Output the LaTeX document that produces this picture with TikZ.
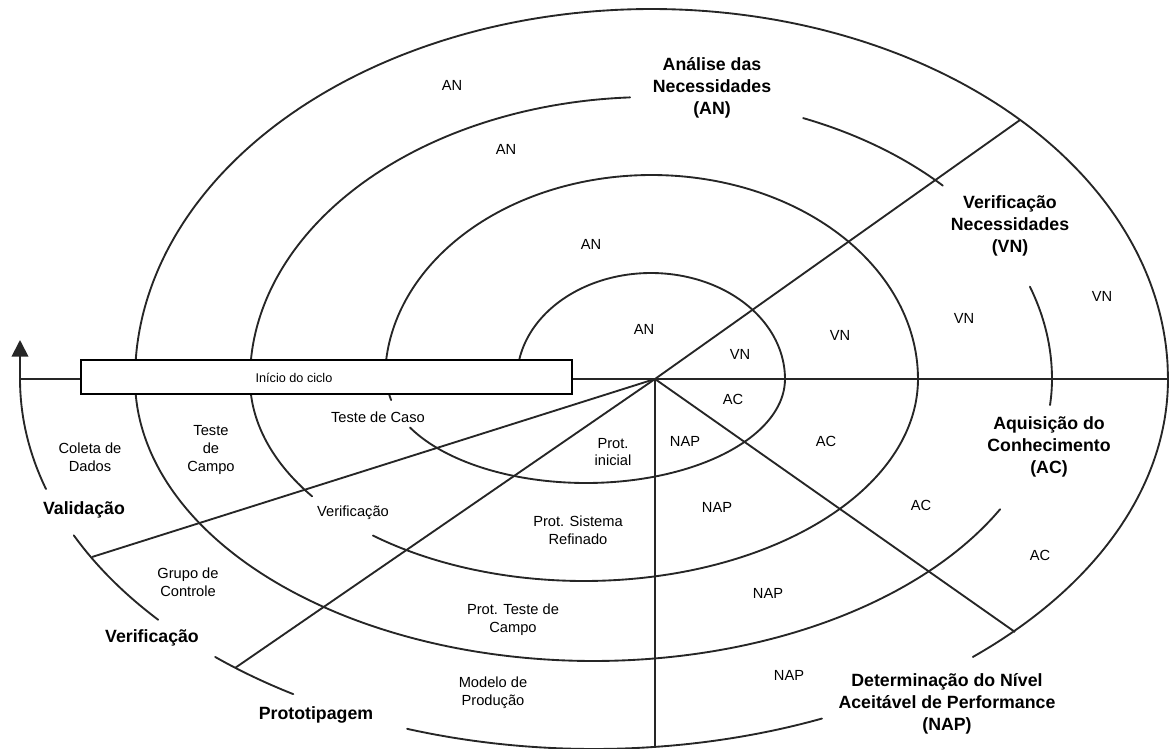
\documentclass[tikz,border=0pt]{standalone}
\usepackage{fontspec}
\setmainfont{Liberation Sans}
\usetikzlibrary{arrows.meta}
% one piece of a half-ellipse of the spiral: centre (#1,#2), radii #3,#4, angles #5..#6
\newcommand{\spiralpart}[6]{%
  \draw[spiral] plot[domain=#5:#6, samples=72, smooth] ({#1+#3*cos(\x)},{#2+#4*sin(\x)});}
\begin{document}
\begin{tikzpicture}[x=0.75pt,y=-0.75pt,
  spiral/.style={line width=1.4pt, draw=black!85, line cap=round},
  axis/.style={line width=1.4pt, draw=black!85},
  lbl/.style={font=\fontsize{11pt}{13.2pt}\selectfont, align=center, inner sep=0pt},
  phase/.style={font=\bfseries\fontsize{13.3pt}{16.5pt}\selectfont, align=center, inner sep=0pt},
  startbox/.style={draw=black, line width=1.6pt, fill=white, minimum width=368pt,
    minimum height=25.5pt, inner sep=0pt},
]
\useasboundingbox (0,0) rectangle (1172,749);

% ---- spiral: upper halves share one centre, lower halves are shifted left
% loop 1
\spiralpart{651}{379}{134}{106}{180}{360}
\spiralpart{586}{379}{199}{104}{0}{152.2}
\spiralpart{586}{379}{199}{104}{168.3}{180}
% loop 2
\spiralpart{651.5}{379}{266.5}{204}{180}{360}
\spiralpart{584}{379}{334}{202}{0}{129.2}
\spiralpart{584}{379}{334}{202}{144.5}{180}
% loop 3
\spiralpart{651}{379}{401}{282}{180}{267}
\spiralpart{651}{379}{401}{282}{292.3}{316.7}
\spiralpart{651}{379}{401}{282}{340.9}{360}
\spiralpart{593.5}{379}{458.5}{282}{0}{5.3}
\spiralpart{593.5}{379}{458.5}{282}{27.5}{180}
% loop 4
\spiralpart{651.5}{379}{516.5}{370}{180}{360}
\spiralpart{594}{379}{574}{370}{0}{48.7}
\spiralpart{594}{379}{574}{370}{66.6}{109.0}
\spiralpart{594}{379}{574}{370}{121.6}{131.3}
\spiralpart{594}{379}{574}{370}{139.4}{155.0}
\spiralpart{594}{379}{574}{370}{162.7}{180}

% ---- radial dividers
\coordinate (C) at (655,379);
\coordinate (L) at (20,379);
\coordinate (R) at (1168,379);
\coordinate (tip) at (20,340);
\coordinate (ne) at (1020,120);
\coordinate (se) at (1015,632);
\coordinate (s) at (655,747);
\coordinate (sw) at (235,668);
\coordinate (wsw) at (92,557);

\draw[axis] (L) -- (R);
\draw[axis] (C) -- (ne);
\draw[axis] (C) -- (se);
\draw[axis] (C) -- (s);
\draw[axis] (C) -- (sw);
\draw[axis] (C) -- (wsw);
\draw[axis, -{Triangle[width=12.5pt,length=12.5pt]}] (L) -- (tip);

% ---- start box
\node[startbox] (startbox) at (326.5,377) {};
\node[font=\fontsize{9.5pt}{11pt}\selectfont, inner sep=0pt] (startlbl) at (294,378) {Início do ciclo};

% ---- sector labels
\node[lbl] (an1) at (452,85) {AN};
\node[lbl] (an2) at (506,149) {AN};
\node[lbl] (an3) at (591,244) {AN};
\node[lbl] (an4) at (644,329) {AN};
\node[lbl] (vn1) at (740,354) {VN};
\node[lbl] (vn2) at (840,335) {VN};
\node[lbl] (vn3) at (964,318) {VN};
\node[lbl] (vn4) at (1102,296) {VN};
\node[lbl] (ac1) at (733,399) {AC};
\node[lbl] (ac2) at (826,441) {AC};
\node[lbl] (ac3) at (921,505) {AC};
\node[lbl] (ac4) at (1040,555) {AC};
\node[lbl] (nap1) at (685,441) {NAP};
\node[lbl] (nap2) at (717,507) {NAP};
\node[lbl] (nap3) at (768,593) {NAP};
\node[lbl] (nap4) at (789,675) {NAP};

\node[lbl] (p1) at (613,452) {Prot.\\inicial};
\node[lbl] (p2) at (578,530) {Prot. Sistema\\Refinado};
\node[lbl] (p3) at (513,620) {Prot. Teste de\\Campo};
\node[lbl] (p4) at (493,693) {Modelo de\\Produção};

\node[lbl] (t1) at (378,417) {Teste de Caso};
\node[lbl] (t2) at (353,513) {Verificação};
\node[lbl] (t3) at (211,450) {Teste\\de\\Campo};
\node[lbl] (t4) at (188,582) {Grupo de\\Controle};
\node[lbl] (t5) at (90,457) {Coleta de\\Dados};

% ---- phase titles
\node[phase] (hAN) at (712,88) {Análise das\\Necessidades\\(AN)};
\node[phase] (hVN) at (1010,226) {Verificação\\Necessidades\\(VN)};
\node[phase] (hAC) at (1049,447) {Aquisição do\\Conhecimento\\(AC)};
\node[phase] (hNAP) at (947,704) {Determinação do Nível\\Aceitável de Performance\\(NAP)};
\node[phase] (hVal) at (84,510) {Validação};
\node[phase] (hVer) at (152,638) {Verificação};
\node[phase] (hPro) at (316,715) {Prototipagem};
\end{tikzpicture}
\end{document}
